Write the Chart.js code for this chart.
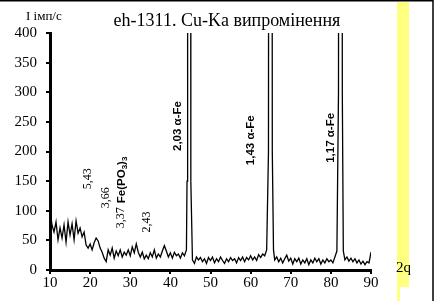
<!DOCTYPE html>
<html>
<head>
<meta charset="utf-8">
<script src="https://cdn.jsdelivr.net/npm/chart.js@4"></script>
<style>
  body { margin: 0; background: #fff; }
</style>
</head>
<body>
<canvas id="chart" width="438" height="301"></canvas>
<script>
// 2-theta angles (deg) and intensity (counts/s)
let angles = [
    10, 10.5, 11, 11.5, 12, 12.5, 13, 13.5, 14, 14.5,
    15, 15.5, 16, 16.5, 17, 17.5, 18, 18.5, 19, 19.5,
    20, 20.5, 21, 21.5, 22, 22.5, 23, 23.5, 24, 24.5,
    25, 25.5, 26, 26.5, 27, 27.5, 28, 28.5, 29, 29.5,
    30, 30.5, 31, 31.5, 32, 32.5, 33, 33.5, 34, 34.5,
    35, 35.5, 36, 36.5, 37, 37.5, 38, 38.5, 39, 39.5,
    40, 40.5, 41, 41.5, 42, 42.5, 43, 43.5, 44,
    44.15, 44.3, 44.95, 45.1,
    45.5, 46, 46.5, 47, 47.5, 48, 48.5, 49, 49.5, 50,
    50.5, 51, 51.5, 52, 52.5, 53, 53.5, 54, 54.5, 55,
    55.5, 56, 56.5, 57, 57.5, 58, 58.5, 59, 59.5, 60,
    60.5, 61, 61.5, 62, 62.5, 63, 63.5, 64,
    64.45, 64.6, 65.25, 65.4, 65.7,
    66, 66.5, 67, 67.5, 68, 68.5, 69, 69.5, 70, 70.5,
    71, 71.5, 72, 72.5, 73, 73.5, 74, 74.5, 75, 75.5,
    76, 76.5, 77, 77.5, 78, 78.5, 79, 79.5, 80, 80.5,
    81, 81.5,
    81.9, 82.05, 82.7, 82.85, 83.1,
    83.5, 84, 84.5, 85, 85.5, 86, 86.5, 87, 87.5, 88,
    88.5, 89, 89.5, 90
];
let counts = [
    101, 76, 64, 81, 51, 71, 54, 76, 47, 81,
    59, 78, 51, 83, 62, 71, 56, 64, 42, 37,
    44, 34, 46, 54, 49, 37, 30, 20, 14, 34,
    25, 37, 20, 32, 24, 34, 22, 30, 25, 34,
    24, 39, 29, 44, 30, 22, 30, 19, 25, 19,
    29, 22, 34, 20, 27, 22, 32, 41, 32, 22,
    29, 20, 30, 24, 27, 20, 29, 24, 34,
    150, 2000, 2000, 150,
    17, 11, 22, 17, 21, 14, 19, 11, 21, 16,
    22, 12, 19, 14, 22, 16, 11, 19, 14, 21,
    16, 19, 12, 21, 16, 22, 14, 21, 17, 24,
    17, 22, 16, 26, 21, 27, 24, 34,
    200, 2000, 2000, 200, 34,
    17, 22, 14, 20, 12, 19, 25, 15, 20, 10,
    19, 14, 20, 10, 17, 12, 19, 9, 17, 12,
    20, 14, 19, 10, 17, 12, 19, 14, 17, 12,
    22, 32,
    300, 2000, 2000, 300, 32,
    17, 22, 15, 20, 14, 19, 12, 17, 10, 15,
    9, 14, 12, 30
];

// peak / phase labels: text, angle, intensity at the label centre
let noteTexts = ['5,43', '3,66', '3,37', '2,43'];
let noteAngles = [19.5, 23.8, 27.7, 34.2];
let noteValues = [154, 122, 88, 81];

let phaseTexts = ['2,03 α-Fe', '1,43 α-Fe', '1,17 α-Fe'];
let phaseAngles = [41.9, 60.1, 80.0];
let phaseValues = [243, 219, 223];

let xTicks = [10, 20, 30, 40, 50, 60, 70, 80, 90];
let yTicks = [0, 50, 100, 150, 200, 250, 300, 350, 400];

let points = angles.map((a, i) => ({ x: a, y: counts[i] }));

let serif = '"Liberation Serif", "Times New Roman", serif';
let sans = '"Liberation Sans", Arial, sans-serif';

function vText(ctx, txt, x, y, font) {
    ctx.save();
    ctx.translate(x, y);
    ctx.rotate(-Math.PI / 2);
    ctx.font = font;
    ctx.textAlign = 'center';
    ctx.textBaseline = 'middle';
    ctx.fillText(txt, 0, 0);
    ctx.restore();
}

let decor = {
    id: 'decor',
    beforeDraw(chart) {
        let ctx = chart.ctx;
        ctx.save();
        ctx.fillStyle = '#ffff80';
        ctx.fillRect(397, 2, 12, 285);
        ctx.fillRect(397, 287, 3, 14);
        ctx.strokeStyle = '#000';
        ctx.lineWidth = 1.5;
        ctx.beginPath();
        ctx.moveTo(0, 0.75);
        ctx.lineTo(433, 0.75);
        ctx.moveTo(433, 0);
        ctx.lineTo(433, 301);
        ctx.stroke();
        ctx.restore();
    },
    afterDraw(chart) {
        let ctx = chart.ctx;
        let xs = chart.scales.x, ys = chart.scales.y;
        ctx.save();
        ctx.fillStyle = '#000';
        ctx.font = '18px ' + serif;
        ctx.textAlign = 'center';
        ctx.textBaseline = 'alphabetic';
        ctx.fillText('eh-1311. Cu-Ka випромінення', 227, 26);
        ctx.font = '13px ' + serif;
        ctx.textAlign = 'left';
        ctx.fillText('I імп/с', 26, 20);
        ctx.font = '15px ' + serif;
        ctx.fillText('2q', 396, 272);

        for (let i = 0; i < noteTexts.length; i++) {
            vText(ctx, noteTexts[i], xs.getPixelForValue(noteAngles[i]),
                  ys.getPixelForValue(noteValues[i]), '12px ' + serif);
        }
        for (let i = 0; i < phaseTexts.length; i++) {
            vText(ctx, phaseTexts[i], xs.getPixelForValue(phaseAngles[i]),
                  ys.getPixelForValue(phaseValues[i]), 'bold 11.5px ' + sans);
        }

        // Fe(PO3)3 with subscripts, rotated
        ctx.save();
        ctx.translate(xs.getPixelForValue(27.8), ys.getPixelForValue(152));
        ctx.rotate(-Math.PI / 2);
        let parts = [['Fe(PO', 11.5, 0], ['3', 8, 3], [')', 11.5, 0], ['3', 8, 3]];
        let total = 0;
        parts.forEach(p => { ctx.font = 'bold ' + p[1] + 'px ' + sans; total += ctx.measureText(p[0]).width; });
        let px = -total / 2;
        ctx.textBaseline = 'middle';
        ctx.textAlign = 'left';
        parts.forEach(p => {
            ctx.font = 'bold ' + p[1] + 'px ' + sans;
            ctx.fillText(p[0], px, p[2]);
            px += ctx.measureText(p[0]).width;
        });
        ctx.restore();
        ctx.restore();
    }
};

var ctx = this.document.getElementById('chart').getContext('2d');
var chart = new Chart(ctx, {
    type: 'line',
    data: {
        datasets: [{
            data: points,
            borderColor: '#000',
            borderWidth: 1.3,
            pointRadius: 0,
            tension: 0,
            fill: false
        }]
    },
    options: {
        responsive: false,
        animation: false,
        layout: { padding: { top: 33, right: 67, left: 0, bottom: 0 } },
        plugins: { legend: { display: false }, tooltip: { enabled: false } },
        scales: {
            x: {
                type: 'linear',
                min: 10,
                max: 90,
                afterFit(s) { s.height = 31; },
                afterBuildTicks(s) { s.ticks = xTicks.map(v => ({ value: v })); },
                ticks: { color: '#000', font: { family: serif, size: 15 }, padding: 0, maxRotation: 0 },
                grid: { drawOnChartArea: false, drawTicks: true, tickLength: 4, color: '#000', lineWidth: 2 },
                border: { display: true, color: '#000', width: 3 }
            },
            y: {
                min: 0,
                max: 400,
                afterFit(s) { s.width = 50; },
                afterBuildTicks(s) { s.ticks = yTicks.map(v => ({ value: v })); },
                ticks: { color: '#000', font: { family: serif, size: 15 }, padding: 9 },
                grid: { drawOnChartArea: false, drawTicks: true, tickLength: 4, color: '#000', lineWidth: 2 },
                border: { display: true, color: '#000', width: 3 }
            }
        }
    },
    plugins: [decor]
});
</script>
</body>
</html>
